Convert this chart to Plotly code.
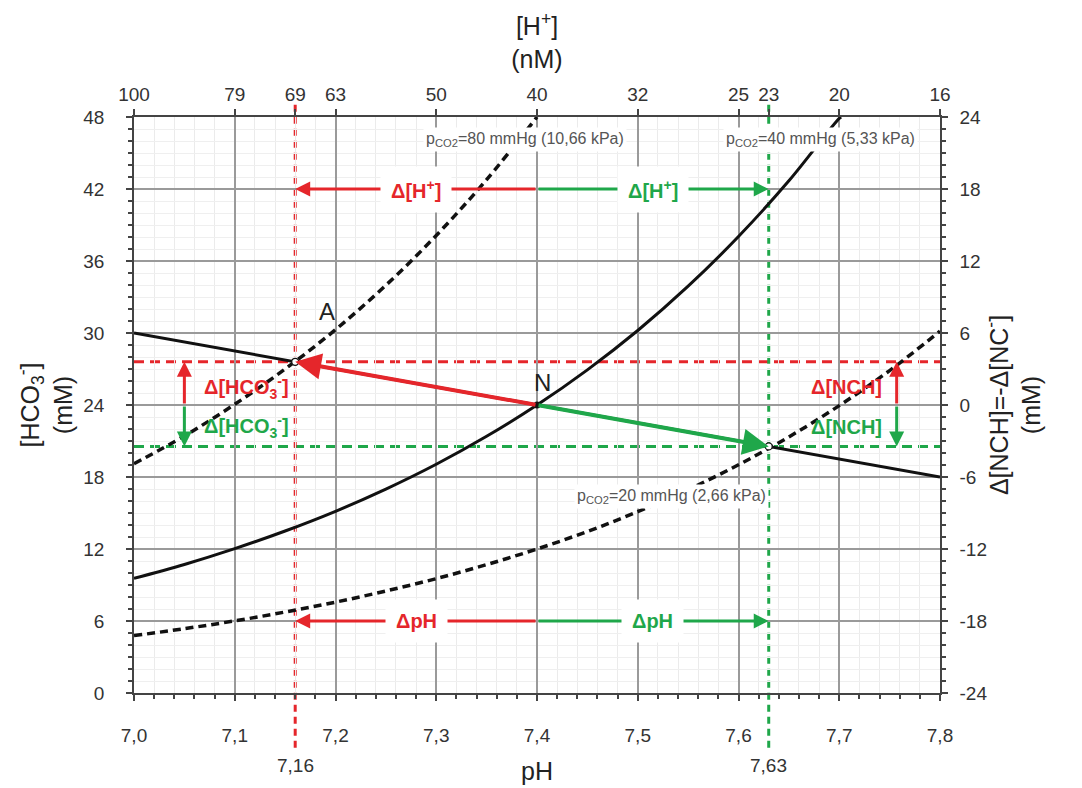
import plotly.graph_objects as go

# ---------------- data ----------------
ph_grid_40 = [7.00, 7.05, 7.10, 7.15, 7.20, 7.25, 7.30, 7.35, 7.40, 7.45, 7.50, 7.55, 7.60, 7.65, 7.70, 7.702]
hco3_40 = [9.55, 10.71, 12.03, 13.50, 15.14, 16.99, 19.06, 21.39, 24.00, 26.93, 30.21, 33.90, 38.04, 42.68, 47.89, 48.0]

ph_grid_80 = [7.00, 7.05, 7.10, 7.15, 7.20, 7.25, 7.30, 7.35, 7.40]
hco3_80 = [19.11, 21.42, 24.06, 27.00, 30.28, 33.98, 38.13, 42.78, 48.00]

ph_grid_20 = [7.00, 7.05, 7.10, 7.15, 7.20, 7.25, 7.30, 7.35, 7.40, 7.45, 7.50, 7.55, 7.60, 7.65, 7.70, 7.75, 7.80]
hco3_20 = [4.78, 5.36, 6.01, 6.75, 7.57, 8.50, 9.53, 10.70, 12.00, 13.46, 15.11, 16.95, 19.02, 21.34, 23.95, 26.87, 30.15]

buffer_ph = [7.0, 7.8]
buffer_hco3 = [30.0, 18.0]

# key points
ph_N, hco3_N = 7.40, 24.0
ph_A, hco3_A = 7.16, 27.6
ph_B, hco3_B = 7.63, 20.55

# axis ticks
ph_ticks = [7.0, 7.1, 7.2, 7.3, 7.4, 7.5, 7.6, 7.7, 7.8]
ph_ticktext = ["7,0", "7,1", "7,2", "7,3", "7,4", "7,5", "7,6", "7,7", "7,8"]
h_tick_ph = [7.0, 7.1, 7.16, 7.2, 7.3, 7.4, 7.5, 7.6, 7.63, 7.7, 7.8]
h_ticktext = ["100", "79", "69", "63", "50", "40", "32", "25", "23", "20", "16"]
nch_ticks = [-24, -18, -12, -6, 0, 6, 12, 18, 24]
nch_ticktext = ["-24", "-18", "-12", "-6", "0", "6", "12", "18", "24"]
extra_ph_labels = [(7.16, "7,16"), (7.63, "7,63")]

# arrow rows
y_dH = 42.0
y_dpH = 6.0
x_dHCO3 = 7.05
x_dNCH = 7.757

RED = "#e5262b"
GREEN = "#1fa74a"
FONT = "Arial, Liberation Sans, sans-serif"

fig = go.Figure()

fig.add_trace(go.Scatter(x=ph_grid_80, y=hco3_80, mode="lines", line=dict(color="#111", width=3.5, dash="8px,5px", shape="spline"), hoverinfo="skip"))
fig.add_trace(go.Scatter(x=ph_grid_20, y=hco3_20, mode="lines", line=dict(color="#111", width=3.5, dash="8px,5px", shape="spline"), hoverinfo="skip"))
fig.add_trace(go.Scatter(x=ph_grid_40, y=hco3_40, mode="lines", line=dict(color="#111", width=3, shape="spline"), hoverinfo="skip"))
fig.add_trace(go.Scatter(x=buffer_ph, y=buffer_hco3, mode="lines", line=dict(color="#111", width=3), hoverinfo="skip"))

# points
fig.add_trace(go.Scatter(x=[ph_A, ph_B], y=[hco3_A, hco3_B], mode="markers",
                         marker=dict(size=7, color="white", line=dict(color="#111", width=1.3)), hoverinfo="skip"))
fig.add_trace(go.Scatter(x=[ph_N], y=[hco3_N], mode="markers",
                         marker=dict(size=7, color="#111"), hoverinfo="skip"))

# invisible trace for secondary axes
fig.add_trace(go.Scatter(x=[7.0], y=[0], xaxis="x2", yaxis="y2", mode="markers",
                         marker=dict(opacity=0), hoverinfo="skip", showlegend=False))

shapes = []
# horizontal dashed lines
shapes.append(dict(type="line", xref="paper", yref="y", x0=0, x1=1, y0=hco3_A, y1=hco3_A,
                   line=dict(color=RED, width=3, dash="10px,6px"), layer="between"))
shapes.append(dict(type="line", xref="paper", yref="y", x0=0, x1=1, y0=hco3_B, y1=hco3_B,
                   line=dict(color=GREEN, width=3, dash="10px,6px"), layer="between"))
# vertical dotted lines (extend beyond plot)
shapes.append(dict(type="line", xref="x", yref="paper", x0=ph_A, x1=ph_A, y0=-0.095, y1=1.025,
                   line=dict(color=RED, width=3, dash="7px,5px"), layer="between"))
shapes.append(dict(type="line", xref="x", yref="paper", x0=ph_B, x1=ph_B, y0=-0.095, y1=1.025,
                   line=dict(color=GREEN, width=3, dash="7px,5px"), layer="between"))

ann = []

def arrow(x_head, y_head, x_tail, y_tail, color, width=3, size=1.0):
    ann.append(dict(x=x_head, y=y_head, ax=x_tail, ay=y_tail, xref="x", yref="y", axref="x", ayref="y",
                    text="", showarrow=True, arrowhead=2, arrowsize=size, arrowwidth=width,
                    arrowcolor=color, standoff=0, startstandoff=0))

# horizontal arrows
arrow(ph_A, y_dH, ph_N, y_dH, RED)
arrow(ph_B, y_dH, ph_N, y_dH, GREEN)
arrow(ph_A, y_dpH, ph_N, y_dpH, RED)
arrow(ph_B, y_dpH, ph_N, y_dpH, GREEN)
# slanted arrows
arrow(ph_A, hco3_A, ph_N, hco3_N, RED, width=4, size=1.3)
arrow(ph_B, hco3_B, ph_N, hco3_N, GREEN, width=4, size=1.3)
# vertical arrows
arrow(x_dHCO3, hco3_A, x_dHCO3, hco3_N, RED)
arrow(x_dHCO3, hco3_B, x_dHCO3, hco3_N, GREEN)
arrow(x_dNCH, hco3_A, x_dNCH, hco3_N, RED)
arrow(x_dNCH, hco3_B, x_dNCH, hco3_N, GREEN)

def label(x, y, text, color, size=20, bold=True, bg="white", xanchor="center", pad=6):
    ann.append(dict(x=x, y=y, xref="x", yref="y", text=("<b>%s</b>" % text) if bold else text,
                    showarrow=False, font=dict(family=FONT, size=size, color=color),
                    bgcolor=bg, borderpad=pad, xanchor=xanchor, yanchor="middle"))

label(7.28, y_dH, "Δ[H<sup>+</sup>]", RED, pad=10)
label(7.515, y_dH, "Δ[H<sup>+</sup>]", GREEN, pad=10)
label(7.28, y_dpH, "ΔpH", RED, pad=10)
label(7.515, y_dpH, "ΔpH", GREEN, pad=10)
label(7.068, 25.5, "Δ[HCO<sub>3</sub><sup>-</sup>]", RED, xanchor="left", bg=None, pad=0)
label(7.068, 22.2, "Δ[HCO<sub>3</sub><sup>-</sup>]", GREEN, xanchor="left", bg=None, pad=0)
label(7.743, 25.5, "Δ[NCH]", RED, xanchor="right", bg=None, pad=0)
label(7.743, 22.2, "Δ[NCH]", GREEN, xanchor="right", bg=None, pad=0)

label(7.388, 46.1, "p<sub>CO2</sub>=80 mmHg (10,66 kPa)", "#555", size=16, bold=False, pad=2)
label(7.681, 46.1, "p<sub>CO2</sub>=40 mmHg (5,33 kPa)", "#555", size=16, bold=False, pad=2)
label(7.533, 16.4, "p<sub>CO2</sub>=20 mmHg (2,66 kPa)", "#555", size=16, bold=False, pad=2)

label(7.192, 31.8, "A", "#222", size=24, bold=False, bg=None, pad=0)
label(7.405, 25.9, "N", "#222", size=24, bold=False, bg=None, pad=0)

for xv, txt in extra_ph_labels:
    ann.append(dict(x=xv, y=-0.125, xref="x", yref="paper", text=txt, showarrow=False,
                    font=dict(family=FONT, size=19, color="#333"), yanchor="middle"))

axis_common = dict(showline=True, linecolor="#444", linewidth=1.5, ticks="outside", tickcolor="#444",
                   ticklen=6, tickwidth=1.5, zeroline=False, automargin=False,
                   tickfont=dict(family=FONT, size=19, color="#333"))

fig.update_layout(
    width=1074, height=780,
    margin=dict(l=126, r=142, t=109, b=95),
    paper_bgcolor="white", plot_bgcolor="white",
    showlegend=False,
    shapes=shapes, annotations=ann,
    font=dict(family=FONT, color="#333"),
    xaxis=dict(range=[7.0, 7.8], tickvals=ph_ticks, ticktext=ph_ticktext,
               showgrid=True, gridcolor="#9a9a9a", gridwidth=1.5,
               minor=dict(dtick=0.02, showgrid=True, gridcolor="#ebebeb", gridwidth=1,
                          ticks="outside", ticklen=4, tickcolor="#444"),
               ticklabelstandoff=18,
               title=dict(text="pH", font=dict(family=FONT, size=25, color="#222"), standoff=18),
               **axis_common),
    xaxis2=dict(range=[7.0, 7.8], overlaying="x", side="top", tickvals=h_tick_ph, ticktext=h_ticktext,
                showgrid=False, ticklabelstandoff=1,
                title=dict(text="[H<sup>+</sup>]<br>(nM)", font=dict(family=FONT, size=25, color="#222"), standoff=8),
                **axis_common),
    yaxis=dict(range=[0, 48], dtick=6, tick0=0,
               showgrid=True, gridcolor="#9a9a9a", gridwidth=1.5,
               minor=dict(dtick=1, showgrid=True, gridcolor="#efefef", gridwidth=1,
                          ticks="outside", ticklen=4, tickcolor="#444"),
               ticklabelstandoff=18,
               title=dict(text="[HCO<sub>3</sub><sup>-</sup>]<br>(mM)", font=dict(family=FONT, size=25, color="#222"), standoff=4),
               **axis_common),
    yaxis2=dict(range=[-24, 24], tickvals=nch_ticks, ticktext=nch_ticktext, overlaying="y", side="right", showgrid=False,
                minor=dict(dtick=1, ticks="outside", ticklen=4, tickcolor="#444"),
                ticklabelstandoff=8,
                title=dict(text="Δ[NCH]=-Δ[NC<sup>-</sup>]<br>(mM)", font=dict(family=FONT, size=25, color="#222"), standoff=4),
                **axis_common),
)

fig.write_html("out.html")
